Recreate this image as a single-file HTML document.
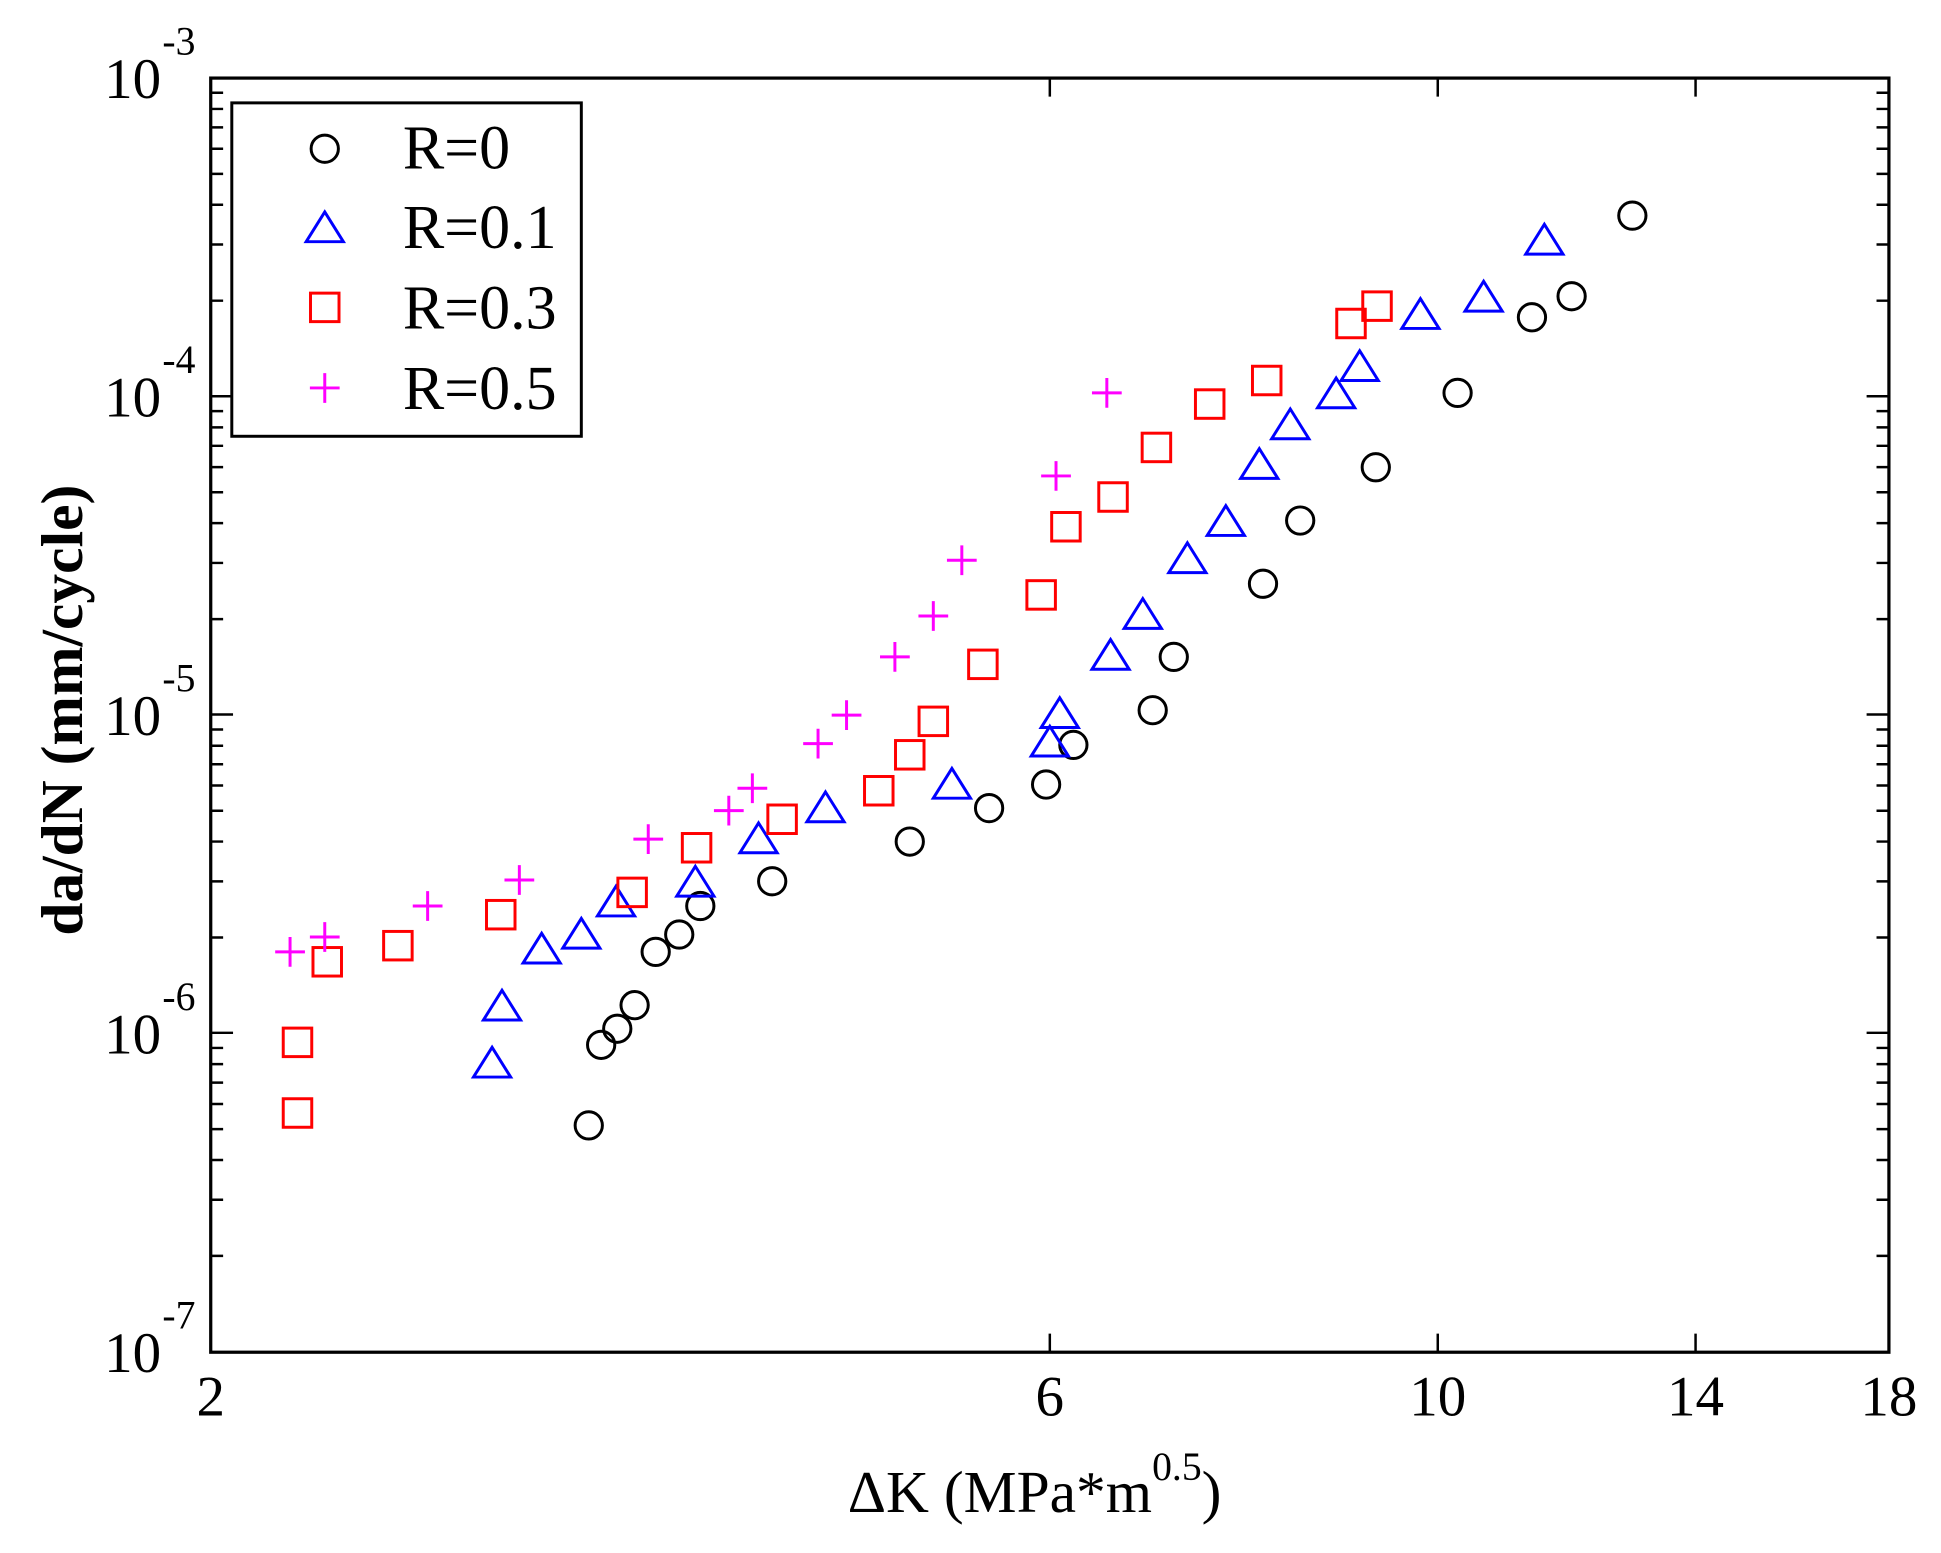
<!DOCTYPE html>
<html><head><meta charset="utf-8"><style>html,body{margin:0;padding:0;background:#fff}svg{display:block}</style></head>
<body>
<svg width="1941" height="1553" viewBox="0 0 1566 1253" xmlns="http://www.w3.org/2000/svg" font-family="'Liberation Serif', serif">
<defs>
<circle id="c" r="11" fill="none" stroke="#000" stroke-width="2.4"/>
<path id="t" d="M0,-13 L15,11 L-15,11 Z" fill="none" stroke="#00f" stroke-width="2.4"/>
<rect id="s" x="-11.5" y="-11.5" width="23" height="23" fill="none" stroke="#f00" stroke-width="2.4"/>
<path id="p" d="M-12,0 H12 M0,-12 V12" fill="none" stroke="#f0f" stroke-width="2.4"/>
</defs>
<rect x="170" y="63" width="1354" height="1028" fill="none" stroke="#000" stroke-width="2.6"/>
<g stroke="#000" stroke-width="2">
<path d="M847,1091 v-15 M1160,1091 v-15 M1368,1091 v-15 M847,63 v15 M1160,63 v15 M1368,63 v15"/>
<path d="M170,319.7 h18 M1524,319.7 h-18 M170,576.5 h18 M1524,576.5 h-18 M170,833.3 h18 M1524,833.3 h-18"/>
<path id="minor" d=""/>
</g>
<g font-size="46" fill="#000">
<text x="84" y="79">10</text><text x="131" y="44" font-size="32">-3</text>
<text x="84" y="336">10</text><text x="131" y="301" font-size="32">-4</text>
<text x="84" y="593">10</text><text x="131" y="558" font-size="32">-5</text>
<text x="84" y="850">10</text><text x="131" y="815" font-size="32">-6</text>
<text x="84" y="1107">10</text><text x="131" y="1072" font-size="32">-7</text>
<text x="170" y="1142" text-anchor="middle">2</text>
<text x="847" y="1142" text-anchor="middle">6</text>
<text x="1160" y="1142" text-anchor="middle">10</text>
<text x="1368" y="1142" text-anchor="middle">14</text>
<text x="1524" y="1142" text-anchor="middle">18</text>
<text x="684" y="1220" font-size="48">ΔK (MPa*m<tspan font-size="32" dy="-26">0.5</tspan><tspan dy="26">)</tspan></text>
<text transform="translate(66,573) rotate(-90)" text-anchor="middle" font-weight="bold" font-size="48">da/dN (mm/cycle)</text>
</g>
<rect x="187" y="83" width="282" height="269" fill="#fff" stroke="#000" stroke-width="2.4"/>
<use href="#c" x="262" y="120"/><use href="#t" x="262" y="184"/><use href="#s" x="262" y="248"/><use href="#p" x="262" y="313"/>
<g font-size="50"><text x="325" y="136">R=0</text><text x="325" y="200">R=0.1</text><text x="325" y="265">R=0.3</text><text x="325" y="330">R=0.5</text></g>
<g id="pts"></g>
<script>
var ns="http://www.w3.org/2000/svg";
var minor="";
for(var d=0;d<4;d++){for(var m=2;m<=9;m++){var y=63+256.9*(d+1)-256.9*Math.log10(m);minor+="M170,"+y.toFixed(1)+" h10 M1524,"+y.toFixed(1)+" h-10 ";}}
document.getElementById("minor").setAttribute("d",minor);
var data={c:[[475,908],[485,843],[498,830],[512,811],[529,768],[548,754],[565,731],[623,711],[734,679],[798,652],[844,633],[866,601],[930,573],[947,530],[1019,471],[1049,420],[1110,377],[1176,317],[1236,256],[1268,239],[1317,174]],
t:[[397,858],[405,812],[437,766],[469,754],[497,728],[561,712],[612,677],[666,652],[768,633],[847,599],[855,576],[896,529],[922,496],[958,451],[989,421],[1016,375],[1041,343],[1078,318],[1097,296],[1146,254],[1197,240],[1246,194]],
s:[[240,898],[240,841],[264,776],[321,763],[404,738],[510,720],[562,684],[631,661],[709,638],[734,609],[753,582],[793,536],[840,480],[860,425],[898,401],[933,361],[976,326],[1022,307],[1090,261],[1111,247]],
p:[[234,768],[262,756],[345,731],[419,710],[523,677],[588,654],[607,636],[660,600],[683,577],[722,530],[753,497],[776,452],[852,384],[893,317]]};
var g=document.getElementById("pts");
for(var k in data){data[k].forEach(function(q){var u=document.createElementNS(ns,"use");u.setAttribute("href","#"+k);u.setAttribute("x",q[0]);u.setAttribute("y",q[1]);g.appendChild(u);});}
</script>
</svg>
</body></html>
